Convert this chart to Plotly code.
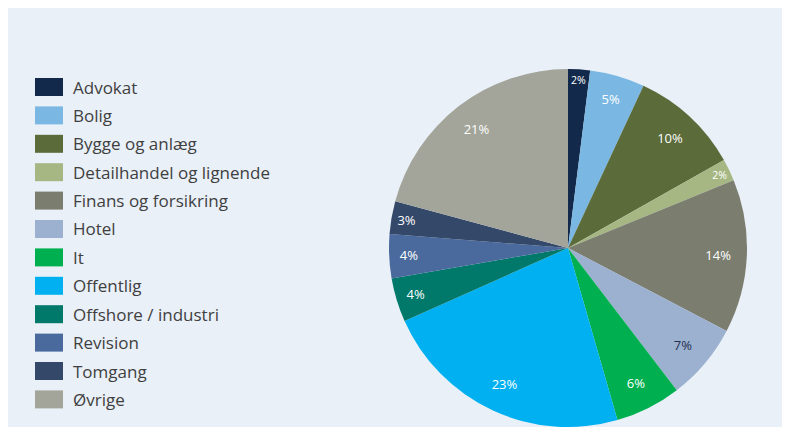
import plotly.graph_objects as go

categories = ["Advokat", "Bolig", "Bygge og anlæg", "Detailhandel og lignende",
              "Finans og forsikring", "Hotel", "It", "Offentlig",
              "Offshore / industri", "Revision", "Tomgang", "Øvrige"]
shares = [2, 5, 10, 2, 14, 7, 6, 23, 4, 4, 3, 21]
colors = ["#13294B", "#7AB8E3", "#5B6B3A", "#A6B783", "#7B7D6F", "#9CB0D0",
          "#00B050", "#00B0F0", "#00786A", "#4A6A9E", "#34496A", "#A3A59A"]
label_colors = ["#FFFFFF"] * 5 + ["#1F2F4F"] + ["#FFFFFF"] * 6

# page has an 8px body margin; figure coordinates are page coordinates - 8
W, H = 774, 419
cx, cy, R = 560, 240, 179
dom_x = [(cx - R) / W, (cx + R) / W]
dom_y = [max(0, (H - cy - R) / H), min(1, (H - cy + R) / H)]

fig = go.Figure()
fig.add_trace(go.Pie(
    labels=categories, values=shares, sort=False, direction="clockwise",
    rotation=0, marker=dict(colors=colors, line=dict(width=0)),
    textinfo="none", showlegend=False, domain=dict(x=dom_x, y=dom_y),
    hoverinfo="label+percent"))
# transparent ring carrying the labels so they sit near the outer edge
fig.add_trace(go.Pie(
    labels=categories, values=shares, sort=False, direction="clockwise",
    rotation=0, hole=0.68,
    marker=dict(colors=["rgba(0,0,0,0)"] * len(shares), line=dict(width=0)),
    texttemplate="%{value}%", textposition="inside",
    insidetextorientation="horizontal",
    textfont=dict(family="Open Sans", size=13, color=label_colors),
    showlegend=False, domain=dict(x=dom_x, y=dom_y), hoverinfo="skip"))

shapes = [dict(type="rect", xref="paper", yref="paper", x0=0, x1=1,
               y0=0, y1=1, fillcolor="#E9F0F8", line=dict(width=0),
               layer="below")]
annotations = []
y_first, step = 79, 28.4
for i, (lab, col) in enumerate(zip(categories, colors)):
    yc = y_first + i * step
    shapes.append(dict(type="rect", xref="paper", yref="paper",
                       x0=27 / W, x1=55 / W,
                       y0=1 - (yc + 9) / H, y1=1 - (yc - 9) / H,
                       fillcolor=col, line=dict(width=0), layer="below"))
    annotations.append(dict(text=lab, xref="paper", yref="paper",
                            x=63 / W, y=1 - yc / H, xanchor="left",
                            yanchor="middle", showarrow=False,
                            font=dict(family="Open Sans", size=17,
                                      color="#3F3F3F")))

fig.update_layout(width=W, height=H, margin=dict(l=0, r=0, t=0, b=0),
                  paper_bgcolor="#FFFFFF", plot_bgcolor="#FFFFFF",
                  shapes=shapes, annotations=annotations)
fig.write_html("out.html")
